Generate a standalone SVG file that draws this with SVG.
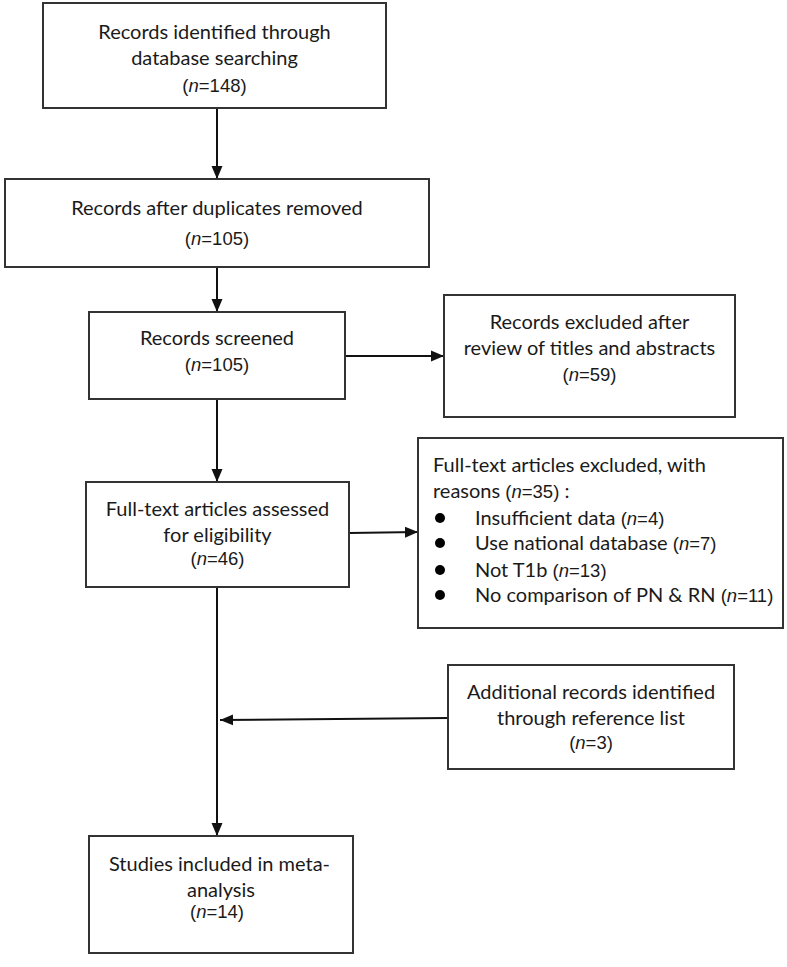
<svg xmlns="http://www.w3.org/2000/svg" width="787" height="967" viewBox="0 0 787 967">
<defs>
<marker id="ah" markerUnits="userSpaceOnUse" markerWidth="14" markerHeight="14" viewBox="0 0 14 14" refX="13" refY="7" orient="auto">
<path d="M0,1.5 L13,7 L0,12.5 Z" fill="#111"/>
</marker>
</defs>
<style>
.box{fill:#fff;stroke:#333;stroke-width:2}
.t{font-family:Lato,"Open Sans",sans-serif;font-size:20px;fill:#1a1a1a}
.c{text-anchor:middle}
.n{font-family:"Liberation Sans",Arial,sans-serif;font-size:18.5px}
.i{font-style:italic}
.ln{stroke:#111;stroke-width:2;fill:none}
</style>
<rect width="787" height="967" fill="#fff"/>
<g id="connectors">
<line class="ln" x1="217" y1="108" x2="217" y2="179" marker-end="url(#ah)"/>
<line class="ln" x1="217" y1="267" x2="217" y2="312" marker-end="url(#ah)"/>
<line class="ln" x1="217" y1="399" x2="217" y2="482" marker-end="url(#ah)"/>
<line class="ln" x1="345" y1="356" x2="444" y2="356" marker-end="url(#ah)"/>
<line class="ln" x1="349" y1="533" x2="418" y2="532" marker-end="url(#ah)"/>
<line class="ln" x1="217" y1="587" x2="217" y2="836" marker-end="url(#ah)"/>
<line class="ln" x1="448" y1="718" x2="220" y2="720" marker-end="url(#ah)"/>
</g>
<g id="n1">
<rect class="box" x="43" y="3" width="343" height="105"/>
<text class="t c" x="214.5" y="39">Records identified through</text>
<text class="t c" x="214.5" y="65">database searching</text>
<text class="t c n" x="214.5" y="92">(<tspan class="i">n</tspan>=148)</text>
</g>
<g id="n2">
<rect class="box" x="5" y="179" width="424" height="88"/>
<text class="t c" x="217" y="215">Records after duplicates removed</text>
<text class="t c n" x="217" y="245">(<tspan class="i">n</tspan>=105)</text>
</g>
<g id="n3">
<rect class="box" x="89" y="312" width="256" height="87"/>
<text class="t c" x="217" y="345">Records screened</text>
<text class="t c n" x="217" y="371">(<tspan class="i">n</tspan>=105)</text>
</g>
<g id="n4">
<rect class="box" x="86" y="482" width="263" height="105"/>
<text class="t c" x="217.5" y="516">Full-text articles assessed</text>
<text class="t c" x="217.5" y="542">for eligibility</text>
<text class="t c n" x="217.5" y="565">(<tspan class="i">n</tspan>=46)</text>
</g>
<g id="n5">
<rect class="box" x="444" y="295" width="291" height="122"/>
<text class="t c" x="589.5" y="329">Records excluded after</text>
<text class="t c" x="589.5" y="355">review of titles and abstracts</text>
<text class="t c n" x="589.5" y="381">(<tspan class="i">n</tspan>=59)</text>
</g>
<g id="n6">
<rect class="box" x="418" y="438" width="365" height="190"/>
<text class="t" x="433" y="472">Full-text articles excluded, with</text>
<text class="t" x="433" y="498">reasons <tspan class="n">(<tspan class="i">n</tspan>=35)</tspan> :</text>
<circle cx="440" cy="518" r="5" fill="#000"/>
<circle cx="440" cy="543" r="5" fill="#000"/>
<circle cx="440" cy="570" r="5" fill="#000"/>
<circle cx="440" cy="595" r="5" fill="#000"/>
<text class="t" x="475" y="525">Insufficient data <tspan class="n">(<tspan class="i">n</tspan>=4)</tspan></text>
<text class="t" x="475" y="550">Use national database <tspan class="n">(<tspan class="i">n</tspan>=7)</tspan></text>
<text class="t" x="475" y="577">Not T1b <tspan class="n">(<tspan class="i">n</tspan>=13)</tspan></text>
<text class="t" x="475" y="602">No comparison of PN &amp; RN <tspan class="n">(<tspan class="i">n</tspan>=11)</tspan></text>
</g>
<g id="n7">
<rect class="box" x="448" y="665" width="286" height="104"/>
<text class="t c" x="591" y="699">Additional records identified</text>
<text class="t c" x="591" y="725">through reference list</text>
<text class="t c n" x="591" y="749">(<tspan class="i">n</tspan>=3)</text>
</g>
<g id="n8">
<rect class="box" x="89" y="836" width="264" height="117"/>
<text class="t c" x="219.5" y="871">Studies included in meta-</text>
<text class="t c" x="221" y="897">analysis</text>
<text class="t c n" x="217" y="918">(<tspan class="i">n</tspan>=14)</text>
</g>
</svg>
